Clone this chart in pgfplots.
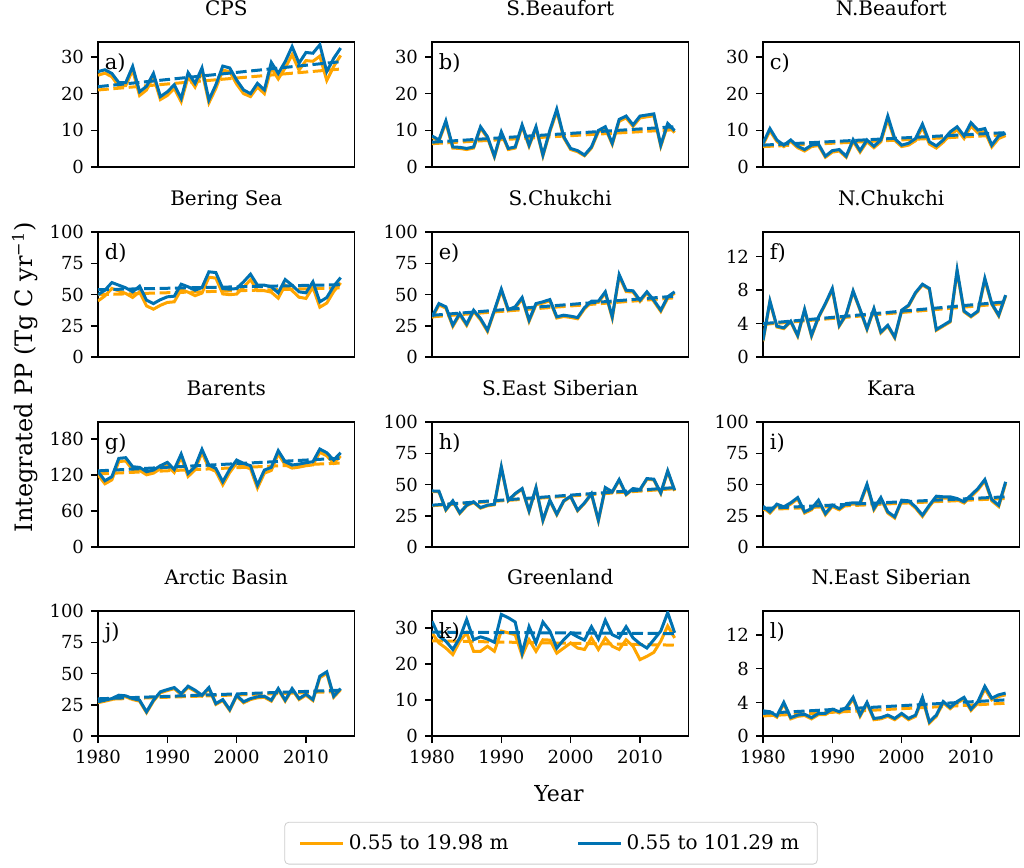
\documentclass[border=0pt]{standalone}
\usepackage{fontspec}
\setmainfont{DejaVu Serif}
\usepackage{pgfplots}
\usepackage{pgfplotstable}
\pgfplotsset{compat=1.18}
\definecolor{cO}{HTML}{FFA500}
\definecolor{cB}{HTML}{0072B2}

\pgfplotstableread{
year aO aB bO bB cO cB
1980 25.0 26.0 8.2 8.5 6.1 6.5
1981 25.6 26.5 7.1 7.4 9.9 10.5
1982 24.6 25.5 12.1 12.6 7.0 7.4
1983 22.0 23.0 5.2 5.5 5.6 6.0
1984 22.2 23.0 5.1 5.4 7.0 7.4
1985 26.4 27.4 4.8 5.1 5.3 5.7
1986 19.5 20.5 5.2 5.5 4.4 4.8
1987 21.0 22.0 10.6 11.0 5.6 6.0
1988 24.6 25.5 8.0 8.3 5.9 6.3
1989 18.4 19.2 2.8 3.0 2.7 3.0
1990 19.5 20.5 9.2 9.6 4.1 4.5
1991 21.4 22.4 4.8 5.1 4.4 4.8
1992 17.8 18.7 5.2 5.5 2.7 3.0
1993 24.6 25.7 11.1 11.5 7.0 7.5
1994 21.8 22.8 5.7 6.0 4.1 4.5
1995 26.0 27.0 10.6 11.0 6.9 7.4
1996 17.5 18.3 3.1 3.3 5.3 5.7
1997 21.4 22.4 9.6 10.0 6.9 7.4
1998 26.4 27.5 15.2 15.8 13.0 13.9
1999 26.0 27.0 8.0 8.3 7.3 7.8
2000 22.6 23.7 4.8 5.1 5.6 6.0
2001 20.0 21.0 4.2 4.5 6.0 6.5
2002 19.2 20.0 3.1 3.3 7.2 7.8
2003 21.8 22.8 5.2 5.5 10.9 11.7
2004 20.0 21.0 9.6 10.0 6.3 6.9
2005 27.0 28.5 10.6 11.0 5.2 5.8
2006 24.0 25.5 6.2 6.5 6.8 7.4
2007 27.0 28.7 12.5 13.0 8.8 9.6
2008 30.6 32.8 13.4 13.9 10.2 11.0
2009 26.4 28.3 11.1 11.5 7.8 8.5
2010 29.0 31.2 13.4 13.9 11.2 12.1
2011 28.8 31.0 13.7 14.2 9.3 10.1
2012 30.2 33.3 14.0 14.5 9.7 10.5
2013 23.6 26.0 5.7 6.0 5.5 6.0
2014 27.4 29.6 11.4 11.9 7.8 8.5
2015 30.4 32.4 9.4 9.9 8.6 9.2
}\rowA

\pgfplotstableread{
year dO dB eO eB fO fB
1980 45.0 50.0 31.3 32.3 1.9 2.0
1981 49.0 53.6 41.8 42.9 6.6 6.7
1982 55.0 59.7 39.3 40.3 3.6 3.7
1983 53.0 57.6 24.6 25.6 3.4 3.5
1984 51.0 55.5 33.9 34.9 4.2 4.3
1985 47.8 52.3 25.4 26.4 2.5 2.6
1986 52.3 56.8 36.6 37.6 5.6 5.7
1987 41.0 45.6 29.9 30.9 2.5 2.6
1988 38.4 42.9 20.6 21.6 4.7 4.8
1989 41.5 46.0 36.6 37.6 6.3 6.4
1990 43.8 48.3 53.2 54.4 8.0 8.2
1991 44.3 48.8 37.1 38.1 3.7 3.8
1992 54.0 58.4 39.3 40.3 5.0 5.1
1993 52.0 56.3 46.6 47.7 7.8 7.9
1994 49.2 53.6 28.6 29.6 5.6 5.7
1995 51.3 55.7 41.9 42.9 3.3 3.4
1996 64.0 68.3 43.3 44.3 5.7 5.8
1997 63.3 67.7 45.1 46.1 2.9 3.0
1998 50.6 54.9 31.3 32.3 3.7 3.8
1999 50.0 54.4 32.6 33.6 2.3 2.4
2000 50.5 54.9 31.8 32.8 5.5 5.6
2001 56.0 60.3 30.7 31.7 6.1 6.2
2002 62.0 66.4 38.7 39.7 7.6 7.7
2003 53.2 57.6 43.8 44.8 8.6 8.7
2004 53.2 57.6 43.8 44.8 8.1 8.2
2005 52.0 56.3 51.3 52.3 3.2 3.3
2006 47.2 51.5 31.3 32.3 3.7 3.8
2007 57.6 62.1 64.8 66.1 4.2 4.3
2008 53.3 57.6 52.5 53.6 10.2 10.4
2009 48.0 52.3 52.1 53.1 5.4 5.5
2010 47.0 51.5 44.6 45.6 4.8 4.9
2011 56.0 60.3 51.3 52.3 5.4 5.5
2012 40.0 44.3 44.6 45.6 9.2 9.4
2013 43.3 47.7 36.6 37.6 6.3 6.4
2014 52.5 56.8 47.2 48.3 4.9 5.0
2015 59.5 63.7 51.2 52.3 7.3 7.4
}\rowB

\pgfplotstableread{
year gO gB hO hB iO iB
1980 120.5 125.6 44.5 45.0 31.8 32.8
1981 105.5 110.6 44.3 44.8 27.3 28.3
1982 112.0 117.2 29.6 30.1 33.4 34.4
1983 142.5 147.8 36.6 37.1 31.3 32.3
1984 143.5 148.9 27.0 27.5 34.5 35.5
1985 128.8 133.9 33.1 33.6 38.7 39.7
1986 127.8 132.8 35.8 36.3 27.3 28.3
1987 120.5 125.6 31.2 31.7 29.9 30.9
1988 123.2 128.3 33.1 33.6 36.6 37.6
1989 130.5 135.6 33.9 34.4 25.9 26.9
1990 136.0 141.1 63.6 64.3 32.6 33.6
1991 124.3 129.4 37.1 37.6 29.9 30.9
1992 149.8 155.0 42.4 42.9 33.9 34.9
1993 117.7 122.8 46.4 46.9 34.5 35.5
1994 128.8 133.9 28.6 29.1 34.5 35.5
1995 157.5 162.8 47.2 47.7 49.2 50.4
1996 131.6 136.7 21.1 21.6 29.9 30.9
1997 126.0 131.1 37.1 37.6 38.7 39.7
1998 103.8 108.9 25.9 26.4 27.3 28.3
1999 124.3 129.4 36.6 37.1 23.3 24.3
2000 139.8 145.0 40.3 40.8 36.6 37.6
2001 134.3 139.4 29.1 29.6 36.1 37.1
2002 130.5 135.6 35.0 35.5 31.3 32.3
2003 98.3 103.3 42.4 42.9 24.6 25.6
2004 123.2 128.3 21.1 21.6 32.6 33.6
2005 127.7 132.8 47.2 47.7 39.8 40.8
2006 155.3 160.6 43.8 44.3 39.3 40.3
2007 137.0 142.2 53.5 54.1 39.3 40.3
2008 131.6 136.7 41.9 42.4 37.9 38.9
2009 133.2 138.3 46.4 46.9 35.3 36.3
2010 135.5 140.6 45.6 46.1 40.5 41.6
2011 137.0 142.2 54.3 54.9 45.8 46.9
2012 158.0 163.3 53.8 54.4 53.0 54.1
2013 152.0 157.2 42.9 43.5 37.0 38.1
2014 139.8 145.0 60.5 61.1 32.5 33.6
2015 151.8 157.2 45.0 45.6 51.0 52.3
}\rowC

\pgfplotstableread{
year jO jB kO kB lO lB
1980 26.8 27.5 28.6 31.8 2.85 3.0
1981 28.0 28.8 25.8 27.7 2.75 2.9
1982 29.3 30.1 24.4 26.3 2.25 2.4
1983 32.0 32.8 22.6 24.0 3.85 4.0
1984 31.5 32.3 26.3 27.2 2.05 2.2
1985 29.3 30.1 28.6 32.3 2.35 2.5
1986 28.0 28.8 23.5 26.7 2.45 2.6
1987 18.8 19.5 23.5 27.5 2.05 2.2
1988 28.0 28.8 24.9 26.9 2.55 2.7
1989 34.7 35.5 23.5 26.0 2.55 2.7
1990 36.5 37.3 29.1 33.7 3.05 3.2
1991 38.0 38.9 28.6 32.8 2.75 2.9
1992 33.3 34.1 28.1 31.6 3.25 3.4
1993 39.1 40.0 22.3 23.0 4.40 4.6
1994 36.0 36.8 26.7 30.3 2.35 2.5
1995 32.0 32.8 23.5 25.8 3.85 4.0
1996 38.0 38.9 26.7 31.6 1.95 2.1
1997 25.4 26.1 26.6 29.1 2.05 2.2
1998 28.5 29.3 23.0 24.4 2.35 2.5
1999 20.6 21.3 24.4 26.7 1.95 2.1
2000 32.0 32.8 25.8 28.6 2.55 2.7
2001 26.7 27.5 24.4 27.5 1.95 2.1
2002 29.3 30.1 24.0 26.6 2.35 2.5
2003 30.7 31.5 27.2 30.3 4.40 4.6
2004 31.1 32.0 24.0 26.9 1.55 1.7
2005 28.0 28.8 27.2 32.1 2.35 2.5
2006 37.2 38.1 24.9 28.1 3.95 4.1
2007 28.0 28.8 24.0 27.2 3.25 3.4
2008 37.2 38.1 26.7 30.3 3.95 4.1
2009 29.3 30.1 24.9 27.2 4.40 4.6
2010 32.8 33.6 21.2 25.6 3.05 3.2
2011 28.5 29.3 22.1 24.4 3.90 4.1
2012 46.8 48.0 23.2 26.7 5.60 5.9
2013 50.2 51.5 26.3 29.1 4.30 4.5
2014 31.2 32.0 30.5 34.2 4.70 4.9
2015 37.2 38.1 27.2 28.6 4.90 5.1
}\rowD

\pgfplotsset{
  panel/.style={
    scale only axis, width=128.25pt, height=62.5pt,
    xmin=1980, xmax=2017, ymin=0,
    axis line style={line width=0.7pt},
    tick align=outside, major tick length=3.5pt,
    every tick/.style={black, line width=0.7pt},
    xtick=\empty, xtick pos=bottom, ytick pos=left,
    tick label style={font=\fontsize{9}{11}\selectfont},
    /pgf/number format/assume math mode=true,
    /pgf/number format/1000 sep={},
    title style={at={(0.5,1)}, anchor=base, yshift=7.5pt, font=\fontsize{10}{12}\selectfont, inner sep=0pt},
  },
  bottomrow/.style={xtick={1980,1990,2000,2010}},
  lo/.style={cO, line width=1.5pt},
  lb/.style={cB, line width=1.5pt},
  to/.style={cO, line width=1.5pt, dash pattern=on 5.4pt off 2.3pt, forget plot},
  tb/.style={cB, line width=1.5pt, dash pattern=on 5.4pt off 2.3pt, forget plot},
}
\newcommand{\plab}[1]{\node[anchor=base west, font=\fontsize{10.5}{12}\selectfont, inner sep=0pt] at (rel axis cs:0.025,0.78) {#1};}

\begin{document}
\begin{tikzpicture}
\path (0,0) rectangle (512pt,433.5pt);

% Row 1
\begin{axis}[panel, at={(49pt,350pt)}, anchor=south west, title={CPS}, ymax=34, ytick={0,10,20,30}]
\addplot[lo] table[x=year,y=aO]{\rowA};
\addplot[to] coordinates {(1980,21.0) (2015,26.7)};
\addplot[lb] table[x=year,y=aB]{\rowA};
\addplot[tb] coordinates {(1980,21.9) (2015,28.7)};
\plab{a)}
\end{axis}
\begin{axis}[panel, at={(216pt,350pt)}, anchor=south west, title={S.Beaufort}, ymax=34, ytick={0,10,20,30}]
\addplot[lo] table[x=year,y=bO]{\rowA};
\addplot[to] coordinates {(1980,6.4) (2015,10.2)};
\addplot[lb] table[x=year,y=bB]{\rowA};
\addplot[tb] coordinates {(1980,6.8) (2015,11.0)};
\plab{b)}
\end{axis}
\begin{axis}[panel, at={(381.5pt,350pt)}, anchor=south west, title={N.Beaufort}, ymax=34, ytick={0,10,20,30}]
\addplot[lo] table[x=year,y=cO]{\rowA};
\addplot[to] coordinates {(1980,5.6) (2015,8.8)};
\addplot[lb] table[x=year,y=cB]{\rowA};
\addplot[tb] coordinates {(1980,6.0) (2015,9.4)};
\plab{c)}
\end{axis}

% Row 2
\begin{axis}[panel, at={(49pt,255pt)}, anchor=south west, title={Bering Sea}, ymax=100, ytick={0,25,50,75,100}]
\addplot[lo] table[x=year,y=dO]{\rowB};
\addplot[to] coordinates {(1980,50.0) (2015,55.5)};
\addplot[lb] table[x=year,y=dB]{\rowB};
\addplot[tb] coordinates {(1980,54.0) (2015,58.0)};
\plab{d)}
\end{axis}
\begin{axis}[panel, at={(216pt,255pt)}, anchor=south west, title={S.Chukchi}, ymax=100, ytick={0,25,50,75,100}]
\addplot[lo] table[x=year,y=eO]{\rowB};
\addplot[to] coordinates {(1980,32.3) (2015,47.5)};
\addplot[lb] table[x=year,y=eB]{\rowB};
\addplot[tb] coordinates {(1980,33.5) (2015,48.8)};
\plab{e)}
\end{axis}
\begin{axis}[panel, at={(381.5pt,255pt)}, anchor=south west, title={N.Chukchi}, ymax=14.9, ytick={0,4,8,12}]
\addplot[lo] table[x=year,y=fO]{\rowB};
\addplot[to] coordinates {(1980,3.9) (2015,6.4)};
\addplot[lb] table[x=year,y=fB]{\rowB};
\addplot[tb] coordinates {(1980,4.0) (2015,6.6)};
\plab{f)}
\end{axis}

% Row 3
\begin{axis}[panel, at={(49pt,160pt)}, anchor=south west, title={Barents}, ymax=208, ytick={0,60,120,180}]
\addplot[lo] table[x=year,y=gO]{\rowC};
\addplot[to] coordinates {(1980,122) (2015,140)};
\addplot[lb] table[x=year,y=gB]{\rowC};
\addplot[tb] coordinates {(1980,127) (2015,148)};
\plab{g)}
\end{axis}
\begin{axis}[panel, at={(216pt,160pt)}, anchor=south west, title={S.East Siberian}, ymax=100, ytick={0,25,50,75,100}]
\addplot[lo] table[x=year,y=hO]{\rowC};
\addplot[to] coordinates {(1980,33.2) (2015,46.8)};
\addplot[lb] table[x=year,y=hB]{\rowC};
\addplot[tb] coordinates {(1980,33.6) (2015,47.7)};
\plab{h)}
\end{axis}
\begin{axis}[panel, at={(381.5pt,160pt)}, anchor=south west, title={Kara}, ymax=100, ytick={0,25,50,75,100}]
\addplot[lo] table[x=year,y=iO]{\rowC};
\addplot[to] coordinates {(1980,30.0) (2015,39.0)};
\addplot[lb] table[x=year,y=iB]{\rowC};
\addplot[tb] coordinates {(1980,31.0) (2015,40.3)};
\plab{i)}
\end{axis}

% Row 4
\begin{axis}[panel, bottomrow, at={(49pt,65.5pt)}, anchor=south west, title={Arctic Basin}, ymax=100, ytick={0,25,50,75,100}]
\addplot[lo] table[x=year,y=jO]{\rowD};
\addplot[to] coordinates {(1980,29.3) (2015,35.8)};
\addplot[lb] table[x=year,y=jB]{\rowD};
\addplot[tb] coordinates {(1980,29.9) (2015,36.8)};
\plab{j)}
\end{axis}
\begin{axis}[panel, bottomrow, at={(216pt,65.5pt)}, anchor=south west, title={Greenland}, ymax=34.6, ytick={0,10,20,30},
  legend style={at={(0.464,-0.856)}, anchor=center, legend columns=2, draw=black!20, rounded corners=2pt, fill=white,
    font=\fontsize{10}{12}\selectfont, /tikz/every even column/.append style={column sep=32pt}, inner xsep=7pt, inner ysep=4pt},
  legend image code/.code={\draw[#1, line width=1.5pt] (0pt,0pt) -- (21.5pt,0pt);}]
\addplot[lo] table[x=year,y=kO]{\rowD};
\addlegendentry{0.55 to 19.98 m}
\addplot[to] coordinates {(1980,26.4) (2015,25.2)};
\addplot[lb] table[x=year,y=kB]{\rowD};
\addlegendentry{0.55 to 101.29 m}
\addplot[tb] coordinates {(1980,28.8) (2015,28.4)};
\plab{k)}
\end{axis}
\begin{axis}[panel, bottomrow, at={(381.5pt,65.5pt)}, anchor=south west, title={N.East Siberian}, ymax=14.8, ytick={0,4,8,12}]
\addplot[lo] table[x=year,y=lO]{\rowD};
\addplot[to] coordinates {(1980,2.4) (2015,3.9)};
\addplot[lb] table[x=year,y=lB]{\rowD};
\addplot[tb] coordinates {(1980,2.7) (2015,4.3)};
\plab{l)}
\end{axis}

\node[rotate=90, font=\fontsize{12}{14}\selectfont] at (12.5pt,245pt) {Integrated PP (Tg C yr\textsuperscript{\char"2212 1})};
\node[font=\fontsize{11}{13}\selectfont] at (279.5pt,37pt) {Year};
\end{tikzpicture}
\end{document}
